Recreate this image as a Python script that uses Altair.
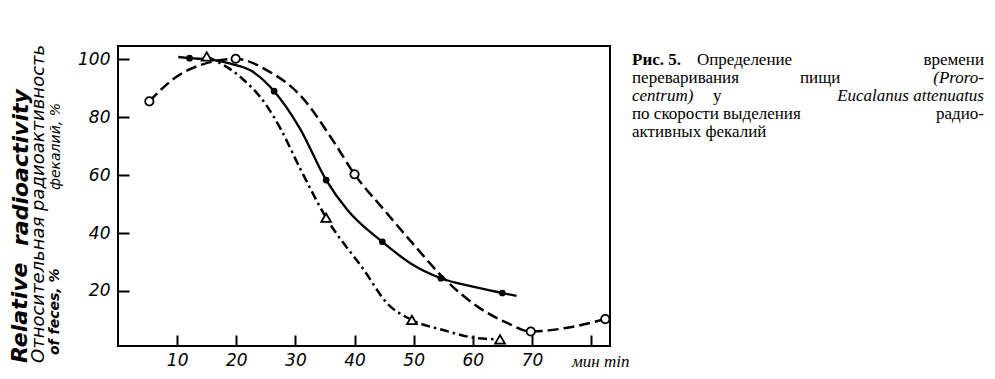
import altair as alt
import pandas as pd

# ---------------- data ----------------
# solid curve, filled circles
solid_line_x = [10.2, 12.1, 16, 19, 22.4, 26.4, 30.8, 35.2, 38.8, 44.7, 49.5, 54.6, 60, 65, 67.4]
solid_line_y = [100.8, 100.4, 99.8, 98.5, 96.2, 89, 76, 58.3, 48, 37, 29.5, 24.4, 21.5, 19.3, 18.3]
solid_pts_x = [12.1, 26.4, 35.2, 44.7, 54.6, 65.0]
solid_pts_y = [100.4, 89, 58.3, 37, 24.4, 19.3]

# dashed curve, open circles
dash_line_x = [5.3, 9.9, 13.9, 17, 19.9, 25.2, 30.8, 36.5, 40, 45, 50.3, 55.1, 60.8, 65.9, 69.8, 75.4, 82.4]
dash_line_y = [85.5, 94, 98, 99.6, 100.2, 96.2, 87.6, 71.5, 60.3, 48, 35.3, 24.4, 14.6, 8.9, 6, 7.1, 10.3]
dash_pts_x = [5.3, 19.9, 40, 69.8, 82.4]
dash_pts_y = [85.5, 100.2, 60.3, 6, 10.3]

# dash-dot curve, open triangles
dd_line_x = [15, 20.7, 24.9, 27.5, 30.8, 35.2, 41.6, 45.5, 49.7, 55, 60.8, 64.6]
dd_line_y = [101, 93.9, 84.7, 76, 62.3, 45.3, 27.2, 15.8, 10, 6.5, 3.7, 3.3]
dd_pts_x = [15, 35.2, 49.7, 64.6]
dd_pts_y = [101, 45.3, 10, 3.3]

x_ticks = [10, 20, 30, 40, 50, 60, 70, 80]
y_ticks = [20, 40, 60, 80, 100]
x_domain = [0, 83.2]
y_domain = [1, 104.6]

x_unit = "мин min"
ytitle_1a = "Relative"
ytitle_1b = "radioactivity"
ytitle_2 = "Относительная радиоактивность"
ytitle_3a = "of feces, %"
ytitle_3b = "фекалий, %"

cap_l1 = ["Рис. 5.", "Определение", "времени"]
cap_l2 = ["переваривания", "пищи", "(Proro-"]
cap_l3 = ["centrum)", "у", "Eucalanus attenuatus"]
cap_l4 = ["по скорости выделения", "радио-"]
cap_l5 = ["активных фекалий"]

# ---------------- chart ----------------
W, H = 492, 300
xs = alt.Scale(domain=x_domain, nice=False, zero=False)
ys = alt.Scale(domain=y_domain, nice=False, zero=False)

lab_font = "DejaVu Sans"
x_axis = alt.Axis(values=x_ticks, labelExpr="datum.value == 80 ? '' : datum.label",
                  domain=False, grid=False, offset=-11, tickSize=11, tickWidth=2,
                  tickColor="black", labelPadding=6, labelFontSize=17,
                  labelFont=lab_font, labelFontStyle="italic", labelColor="black",
                  title=None)
y_axis = alt.Axis(values=y_ticks, domain=False, grid=False, offset=-11, tickSize=11,
                  tickWidth=2, tickColor="black", labelPadding=8, labelFontSize=17,
                  labelFont=lab_font, labelFontStyle="italic", labelColor="black",
                  title=None)


def df(xv, yv):
    return pd.DataFrame({"x": xv, "y": yv})


def enc(ch):
    return ch.encode(x=alt.X("x:Q", scale=xs, axis=x_axis),
                     y=alt.Y("y:Q", scale=ys, axis=y_axis))


solid = enc(alt.Chart(df(solid_line_x, solid_line_y)).mark_line(
    color="black", strokeWidth=2.3, interpolate="monotone"))
dashed = enc(alt.Chart(df(dash_line_x, dash_line_y)).mark_line(
    color="black", strokeWidth=2.5, strokeDash=[11, 5], interpolate="monotone"))
dashdot = enc(alt.Chart(df(dd_line_x, dd_line_y)).mark_line(
    color="black", strokeWidth=2.5, strokeDash=[9, 4, 2.5, 4], interpolate="monotone"))

solid_pts = enc(alt.Chart(df(solid_pts_x, solid_pts_y)).mark_point(
    shape="circle", filled=True, color="black", size=45, opacity=1))
dash_pts = enc(alt.Chart(df(dash_pts_x, dash_pts_y)).mark_point(
    shape="circle", filled=True, fill="white", stroke="black", strokeWidth=1.8,
    size=70, opacity=1))
dd_pts = enc(alt.Chart(df(dd_pts_x, dd_pts_y)).mark_point(
    shape="triangle-up", filled=True, fill="white", stroke="black", strokeWidth=1.8,
    size=95, opacity=1))


def label(text, x, y, size, align="left", angle=0, style="normal", weight="normal",
          font="Liberation Serif", baseline="alphabetic"):
    return alt.Chart(pd.DataFrame({"t": [text]})).mark_text(
        align=align, baseline=baseline, angle=angle, fontSize=size, fontStyle=style,
        fontWeight=weight, font=font, color="black").encode(
        x=alt.value(x), y=alt.value(y), text="t:N")


cs = 17
RX = 866
texts = [
    label(x_unit, 454, 321, 17, style="italic"),
    label(ytitle_1a, -98, 317, 22, angle=270, style="italic", weight="bold",
          font="DejaVu Sans", baseline="middle"),
    label(ytitle_1b, -97, 200, 22, angle=270, style="italic", weight="bold",
          font="DejaVu Sans", baseline="middle"),
    label(ytitle_2, -79, 317, 18, angle=270, style="italic", font="DejaVu Sans",
          baseline="middle"),
    label(ytitle_3a, -63, 309, 14, angle=270, style="italic", weight="bold",
          font="DejaVu Sans", baseline="middle"),
    label(ytitle_3b, -62, 144, 14, angle=270, style="italic", font="DejaVu Sans",
          baseline="middle"),
    # caption
    label(cap_l1[0], 514, 19, cs, weight="bold"),
    label(cap_l1[1], 579, 19, cs),
    label(cap_l1[2], RX, 19, cs, align="right"),
    label(cap_l2[0], 514, 37, cs),
    label(cap_l2[1], 682, 37, cs),
    label(cap_l2[2], RX, 37, cs, align="right", style="italic"),
    label(cap_l3[0], 514, 55, cs, style="italic"),
    label(cap_l3[1], 595, 55, cs),
    label(cap_l3[2], RX, 55, cs, align="right", style="italic"),
    label(cap_l4[0], 514, 73, cs),
    label(cap_l4[1], RX, 73, cs, align="right"),
    label(cap_l5[0], 514, 91, cs),
]

chart = alt.layer(solid, dashed, dashdot, solid_pts, dash_pts, dd_pts, *texts).properties(
    width=W, height=H,
    autosize=alt.AutoSizeParams(type="none"),
    padding={"left": 110, "top": 38, "right": 377, "bottom": 25},
    background="white",
).configure_view(stroke="black", strokeWidth=2)

chart.save("out.html", embed_options={"renderer": "svg", "actions": False})
